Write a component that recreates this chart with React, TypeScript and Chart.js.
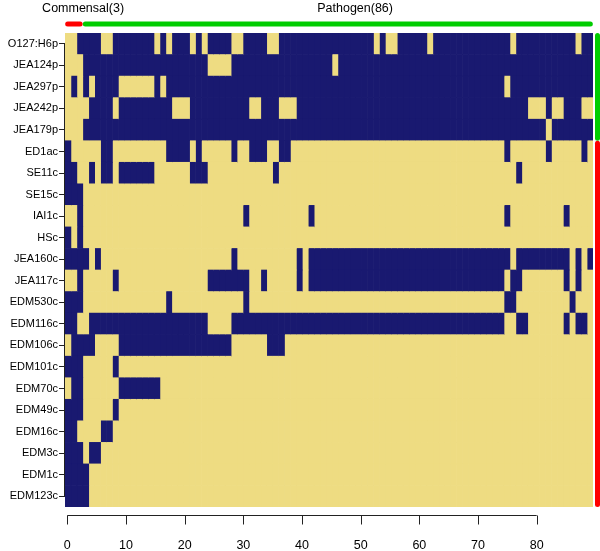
import { useEffect, useRef } from 'react';
import { Chart, registerables } from 'chart.js';

Chart.register(...registerables);

// ---- data ----
const ROWS = [
  'O127:H6p', 'JEA124p', 'JEA297p', 'JEA242p', 'JEA179p', 'ED1ac', 'SE11c', 'SE15c',
  'IAI1c', 'HSc', 'JEA160c', 'JEA117c', 'EDM530c', 'EDM116c', 'EDM106c', 'EDM101c',
  'EDM70c', 'EDM49c', 'EDM16c', 'EDM3c', 'EDM1c', 'EDM123c',
];
// group of each row (right-hand bar)
const ROW_GROUP = ['P', 'P', 'P', 'P', 'P', 'C', 'C', 'C', 'C', 'C', 'C', 'C', 'C', 'C', 'C', 'C', 'C', 'C', 'C', 'C', 'C', 'C'];
const N_COLUMNS = 89;
// column groups (top bar)
const COL_GROUP_LABELS = ['Commensal(3)', 'Pathogen(86)'];
const COL_GROUP_COUNTS = [3, 86];
// blue (present) runs per row, inclusive column indices
const BLUE_RUNS: number[][][] = [
  [[2, 5], [8, 14], [16, 16], [18, 20], [22, 22], [24, 27], [30, 33], [36, 51], [53, 53], [56, 60], [62, 74], [76, 85], [87, 88]],
  [[3, 23], [28, 44], [46, 88]],
  [[1, 1], [3, 3], [5, 8], [15, 15], [17, 73], [75, 88]],
  [[4, 7], [9, 17], [21, 30], [33, 35], [39, 77], [81, 81], [84, 86]],
  [[3, 80], [82, 88]],
  [[0, 0], [6, 7], [17, 20], [22, 22], [28, 28], [31, 33], [36, 37], [74, 74], [81, 81], [87, 87]],
  [[0, 1], [4, 4], [6, 7], [9, 14], [21, 23], [35, 35], [76, 76]],
  [[0, 2]],
  [[2, 2], [30, 30], [41, 41], [74, 74], [84, 84]],
  [[0, 0], [2, 2]],
  [[0, 3], [5, 5], [28, 28], [39, 39], [41, 74], [76, 84], [86, 86], [88, 88]],
  [[2, 2], [8, 8], [24, 30], [33, 33], [39, 39], [41, 73], [75, 76], [84, 84], [86, 86]],
  [[0, 2], [17, 17], [30, 30], [74, 75], [85, 85]],
  [[0, 1], [4, 23], [28, 73], [76, 77], [84, 84], [86, 87]],
  [[1, 4], [9, 27], [34, 36]],
  [[0, 2], [8, 8]],
  [[1, 2], [9, 15]],
  [[0, 2], [8, 8]],
  [[0, 1], [6, 7]],
  [[0, 2], [4, 5]],
  [[0, 3]],
  [[0, 3]],
];
const X_TICKS = [0, 10, 20, 30, 40, 50, 60, 70, 80];

// ---- styles ----
const BLUE = '#191970';
const YELLOW = '#EEDC82';
const RED = '#FF0000';
const GREEN = '#00CD00';
const FONT = "'Liberation Sans', Arial, Helvetica, sans-serif";

function isBlue(row: number, col: number) {
  return BLUE_RUNS[row].some(([a, b]) => col >= a && col <= b);
}

const decorPlugin = {
  id: 'decor',
  afterDraw(chart: any) {
    const ctx = chart.ctx as CanvasRenderingContext2D;
    const area = chart.chartArea;
    const xc = chart.scales.xc;
    const xa = chart.scales.x;
    const ys = chart.scales.y;
    ctx.save();

    // x axis line + ticks (R style)
    const axY = area.bottom + 8.5;
    ctx.strokeStyle = '#222';
    ctx.lineWidth = 1;
    ctx.beginPath();
    ctx.moveTo(xa.getPixelForValue(X_TICKS[0]), axY);
    ctx.lineTo(xa.getPixelForValue(X_TICKS[X_TICKS.length - 1]), axY);
    for (const t of X_TICKS) {
      const px = Math.round(xa.getPixelForValue(t)) + 0.5;
      ctx.moveTo(px, axY);
      ctx.lineTo(px, axY + 9);
    }
    ctx.stroke();

    // y axis line
    ctx.beginPath();
    const lx = area.left - 0.5;
    ctx.moveTo(lx, ys.getPixelForValue(0));
    ctx.lineTo(lx, ys.getPixelForValue(ROWS.length - 1));
    ctx.stroke();

    // top group bar
    ctx.lineCap = 'round';
    ctx.lineWidth = 5;
    const barY = 24;
    let start = 0;
    COL_GROUP_COUNTS.forEach((cnt, i) => {
      const end = start + cnt;
      ctx.strokeStyle = i === 0 ? RED : GREEN;
      ctx.beginPath();
      ctx.moveTo(xc.getPixelForValue(start + (i === 0 ? 0.45 : 0.42)), barY);
      ctx.lineTo(xc.getPixelForValue(end - 0.45), barY);
      ctx.stroke();
      start = end;
    });

    // top group labels
    ctx.fillStyle = '#000';
    ctx.font = `12.5px ${FONT}`;
    ctx.textAlign = 'center';
    ctx.textBaseline = 'alphabetic';
    const labelPos = [3.05, 48.9];
    COL_GROUP_LABELS.forEach((lab, i) => {
      ctx.fillText(lab, xc.getPixelForValue(labelPos[i]), 12);
    });

    // right group bar
    const bx = area.right + 4.5;
    const half = (ys.getPixelForValue(1) - ys.getPixelForValue(0)) / 2;
    let r0 = 0;
    while (r0 < ROWS.length) {
      let r1 = r0;
      while (r1 + 1 < ROWS.length && ROW_GROUP[r1 + 1] === ROW_GROUP[r0]) r1++;
      ctx.strokeStyle = ROW_GROUP[r0] === 'P' ? GREEN : RED;
      ctx.beginPath();
      ctx.moveTo(bx, ys.getPixelForValue(r0) - half + 2.5);
      ctx.lineTo(bx, ys.getPixelForValue(r1) + half - 2.5);
      ctx.stroke();
      r0 = r1 + 1;
    }
    ctx.restore();
  },
};

export default function App() {
  const ref = useRef<HTMLCanvasElement>(null);

  useEffect(() => {
    const canvas = ref.current;
    if (!canvas) return;
    const datasets = Array.from({ length: N_COLUMNS }, (_, c) => ({
      label: `col${c}`,
      data: ROWS.map(() => 1),
      backgroundColor: ROWS.map((_, r) => (isBlue(r, c) ? BLUE : YELLOW)),
      borderWidth: 0,
      barPercentage: 1,
      categoryPercentage: 1,
      xAxisID: 'xc',
      yAxisID: 'y',
      stack: 'cells',
    }));

    const chart = new Chart(canvas, {
      type: 'bar',
      data: { labels: ROWS, datasets },
      plugins: [decorPlugin],
      options: {
        indexAxis: 'y',
        animation: false,
        responsive: false,
        events: [],
        layout: { padding: { left: 0, right: 7, top: 33, bottom: 0 } },
        plugins: { legend: { display: false }, tooltip: { enabled: false } },
        scales: {
          xc: {
            type: 'linear',
            axis: 'x',
            position: 'bottom',
            min: 0,
            max: N_COLUMNS,
            stacked: true,
            display: false,
          },
          x: {
            type: 'linear',
            position: 'bottom',
            min: -0.4,
            max: 89.6,
            grid: { display: false, drawTicks: false },
            border: { display: false },
            ticks: {
              padding: 31,
              color: '#000',
              autoSkip: false,
              maxRotation: 0,
              font: { family: FONT, size: 12.5 },
            },
            afterBuildTicks: (s: any) => {
              s.ticks = X_TICKS.map((v) => ({ value: v }));
            },
            afterFit: (s: any) => {
              s.height = 44;
            },
          } as any,
          y: {
            type: 'category',
            stacked: true,
            offset: true,
            grid: { drawOnChartArea: false, drawTicks: true, tickLength: 6, offset: false, color: '#222' },
            border: { display: false },
            ticks: {
              padding: 1,
              color: '#000',
              autoSkip: false,
              font: { family: FONT, size: 11 },
            },
            afterFit: (s: any) => {
              s.width = 65;
            },
          } as any,
        },
      },
    });
    return () => chart.destroy();
  }, []);

  return (
    <div style={{ position: 'fixed', left: 0, top: 0, width: 600, height: 551, background: '#fff' }}>
      <canvas ref={ref} width={600} height={551} style={{ display: 'block' }} />
    </div>
  );
}
